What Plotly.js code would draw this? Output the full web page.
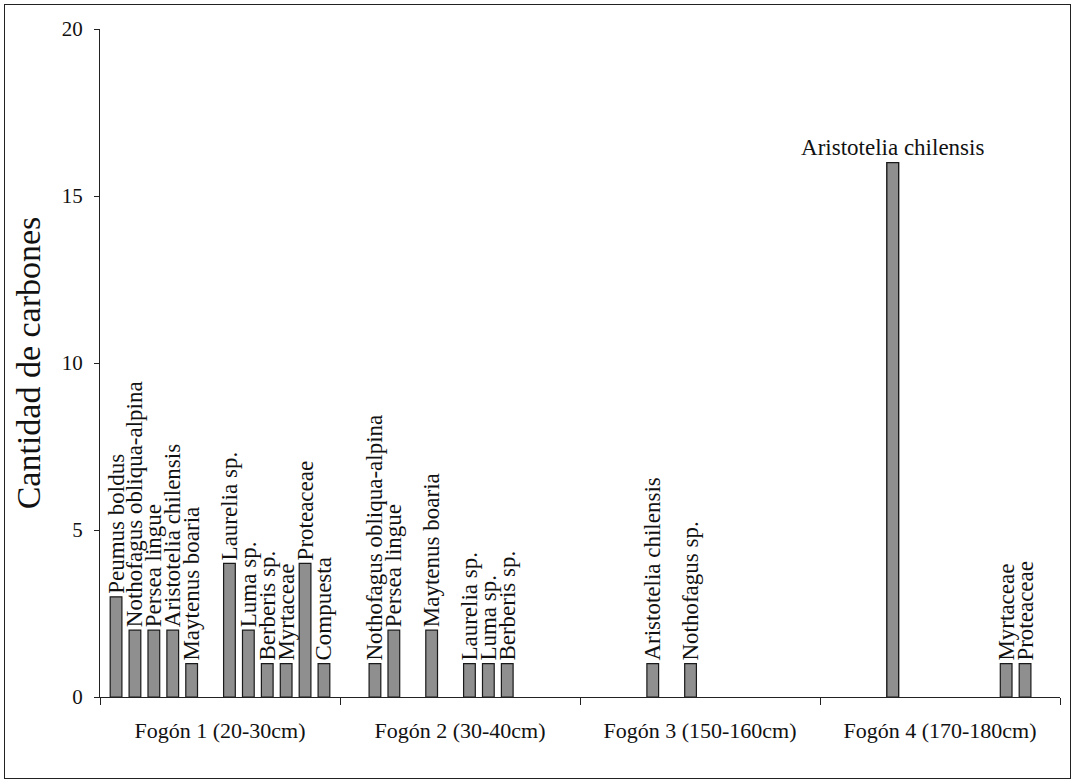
<!DOCTYPE html>
<html>
<head>
<meta charset="utf-8">
<script src="https://cdn.plot.ly/plotly-3.0.1.min.js"></script>
<style>
  html, body { margin: 0; padding: 0; background: #ffffff; }
  #chart { position: absolute; left: 4px; top: 4px; width: 1065px; height: 773px; border: 1px solid #222; }
</style>
</head>
<body>
<div id="chart"></div>
<script>
// Categories (hearths)
const categories = ['Fogón 1 (20-30cm)', 'Fogón 2 (30-40cm)', 'Fogón 3 (150-160cm)', 'Fogón 4 (170-180cm)'];

// Taxa (series), in slot order within each group
const taxa = [
  'Peumus boldus', 'Nothofagus obliqua-alpina', 'Persea lingue', 'Aristotelia chilensis',
  'Maytenus boaria', 'Nothofagus sp.', 'Laurelia sp.', 'Luma sp.', 'Berberis sp.',
  'Myrtaceae', 'Proteaceae', 'Compuesta'
];

// Charcoal counts per hearth for each taxon
const peumusBoldus      = [3, 0, 0, 0];
const nothofagusOA      = [2, 1, 0, 0];
const perseaLingue      = [2, 2, 0, 0];
const aristoteliaChil   = [2, 0, 1, 16];
const maytenusBoaria    = [1, 2, 0, 0];
const nothofagusSp      = [0, 0, 1, 0];
const laureliaSp        = [4, 1, 0, 0];
const lumaSp            = [2, 1, 0, 0];
const berberisSp        = [1, 1, 0, 0];
const myrtaceae         = [1, 0, 0, 1];
const proteaceae        = [4, 0, 0, 1];
const compuesta         = [1, 0, 0, 0];

const seriesValues = [peumusBoldus, nothofagusOA, perseaLingue, aristoteliaChil, maytenusBoaria,
  nothofagusSp, laureliaSp, lumaSp, berberisSp, myrtaceae, proteaceae, compuesta];

const yTicks = [0, 5, 10, 15, 20];

const serif = 'Liberation Serif, Times New Roman, serif';
const labelFont = { family: serif, size: 23, color: '#111' };
const barFill = '#8f8f8f';
const barLine = { color: '#1a1a1a', width: 1.2 };

const traces = taxa.map((name, i) => {
  const vals = seriesValues[i];
  // zero counts are not drawn
  const yv = vals.map(v => v > 0 ? v : null);
  // Horizontal label is used for the tall Aristotelia bar in Fogón 4 (drawn by its own overlay trace)
  const text = vals.map((v, j) => (v > 0 && !(i === 3 && j === 3)) ? name : '');
  return {
    type: 'bar',
    x: categories,
    y: yv,
    name: name,
    offsetgroup: String(i),
    text: text,
    texttemplate: '%{text}',
    textposition: 'outside',
    textangle: -90,
    constraintext: 'none',
    cliponaxis: false,
    textfont: labelFont,
    marker: { color: barFill, line: barLine },
    showlegend: false
  };
});

// Overlay trace for the horizontal label of Aristotelia chilensis in Fogón 4
traces.push({
  type: 'bar',
  x: categories,
  y: aristoteliaChil.map((v, j) => j === 3 ? v : null),
  name: taxa[3],
  offsetgroup: '3',
  text: aristoteliaChil.map((v, j) => j === 3 ? taxa[3] : ''),
  texttemplate: '%{text}',
  textposition: 'outside',
  textangle: 0,
  constraintext: 'none',
  cliponaxis: false,
  textfont: labelFont,
  marker: { color: barFill, line: barLine },
  showlegend: false
});

const layout = {
  width: 1065,
  height: 773,
  margin: { l: 95, r: 10, t: 24, b: 81 },
  paper_bgcolor: '#ffffff',
  plot_bgcolor: '#ffffff',
  barmode: 'group',
  bargap: 0.055,
  bargroupgap: 0.38,
  showlegend: false,
  font: { family: serif, color: '#111' },
  xaxis: {
    type: 'category',
    categoryorder: 'array',
    categoryarray: categories,
    showline: true,
    linecolor: '#222',
    linewidth: 1,
    ticks: 'outside',
    tickson: 'boundaries',
    ticklen: 7,
    tickcolor: '#222',
    showgrid: false,
    zeroline: false,
    ticklabelstandoff: 14,
    tickfont: { family: serif, size: 22, color: '#111' }
  },
  yaxis: {
    range: [0, 20],
    tickvals: yTicks,
    ticktext: yTicks.map(String),
    showline: true,
    linecolor: '#222',
    linewidth: 1,
    ticks: 'outside',
    ticklen: 5,
    tickcolor: '#222',
    showgrid: false,
    zeroline: false,
    ticklabelstandoff: 7,
    tickfont: { family: serif, size: 21, color: '#111' },
    title: {
      text: 'Cantidad de carbones',
      standoff: 10,
      font: { family: serif, size: 34, color: '#111' }
    }
  }
};

Plotly.newPlot('chart', traces, layout, { displayModeBar: false, staticPlot: true });
</script>
</body>
</html>
